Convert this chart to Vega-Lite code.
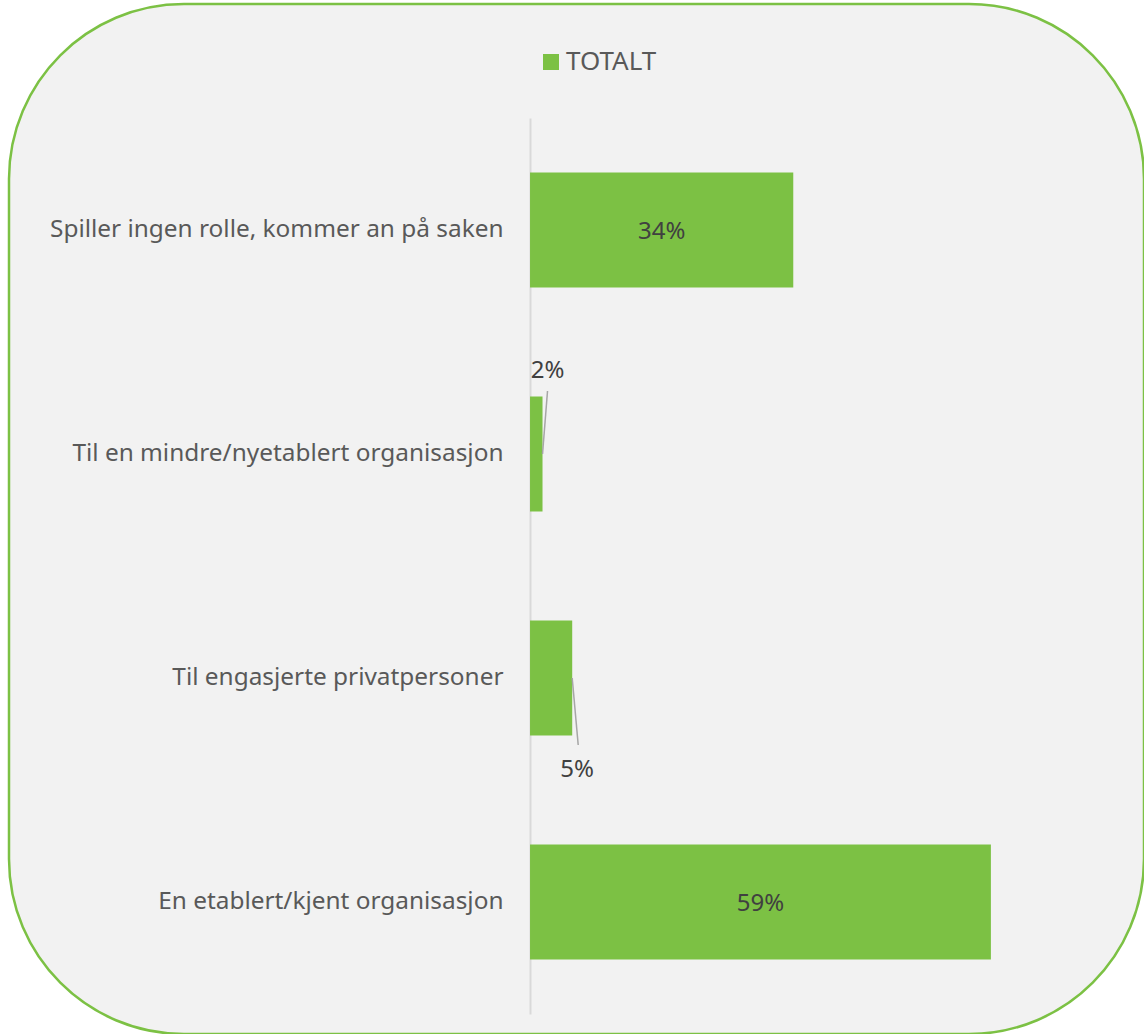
{
  "$schema": "https://vega.github.io/schema/vega-lite/v6.json",
  "autosize": {"type": "none"},
  "padding": {"left": 9, "top": 4, "right": 0, "bottom": 0},
  "width": 1135,
  "height": 1030,
  "background": "#ffffff",
  "config": {
    "view": {"fill": "#f2f2f2", "stroke": "#7cc144", "strokeWidth": 2.5, "cornerRadius": 175},
    "font": "Noto Sans"
  },
  "data": {
    "values": [
      {"category": "Spiller ingen rolle, kommer an på saken", "value": 0.337, "series": "TOTALT"},
      {"category": "Til en mindre/nyetablert organisasjon", "value": 0.016, "series": "TOTALT"},
      {"category": "Til engasjerte privatpersoner", "value": 0.054, "series": "TOTALT"},
      {"category": "En etablert/kjent organisasjon", "value": 0.59, "series": "TOTALT"}
    ]
  },
  "encoding": {
    "y": {
      "field": "category",
      "type": "nominal",
      "sort": null,
      "scale": {"range": [114, 1010], "paddingInner": 0.487, "paddingOuter": 0.2435},
      "axis": {
        "title": null,
        "offset": -521,
        "ticks": false,
        "domainColor": "#d9d9d9",
        "domainWidth": 2,
        "labelPadding": 27,
        "labelLimit": 0,
        "labelFontSize": 24.4,
        "labelColor": "#595959",
        "labelFont": "Noto Sans"
      }
    }
  },
  "layer": [
    {
      "mark": {"type": "bar"},
      "encoding": {
        "x": {"field": "value", "type": "quantitative", "scale": {"domain": [-0.667, 0.786], "nice": false, "zero": false}, "axis": null},
        "color": {
          "field": "series",
          "type": "nominal",
          "scale": {"range": ["#7cc144"]},
          "legend": {
            "title": null,
            "orient": "none",
            "legendX": 529,
            "legendY": 45,
            "symbolType": "square",
            "symbolSize": 256,
            "symbolStrokeWidth": 0,
            "labelFontSize": 26,
            "labelColor": "#595959",
            "labelFont": "Noto Sans",
            "labelOffset": 2
          }
        }
      }
    },
    {
      "transform": [
        {"filter": "datum.value > 0.2"},
        {"calculate": "datum.value / 2", "as": "mid"}
      ],
      "mark": {"type": "text", "fontSize": 24, "color": "#404040", "dy": 2},
      "encoding": {
        "x": {"field": "mid", "type": "quantitative"},
        "text": {"field": "value", "type": "quantitative", "format": ".0%"}
      }
    },
    {
      "transform": [{"filter": "datum.category == 'Til en mindre/nyetablert organisasjon'"}],
      "mark": {"type": "text", "fontSize": 24, "color": "#404040", "dx": 5, "dy": -83},
      "encoding": {
        "x": {"field": "value", "type": "quantitative"},
        "text": {"field": "value", "type": "quantitative", "format": ".0%"}
      }
    },
    {
      "transform": [{"filter": "datum.category == 'Til engasjerte privatpersoner'"}],
      "mark": {"type": "text", "fontSize": 24, "color": "#404040", "dx": 5, "dy": 92},
      "encoding": {
        "x": {"field": "value", "type": "quantitative"},
        "text": {"field": "value", "type": "quantitative", "format": ".0%"}
      }
    },
    {
      "transform": [{"filter": "datum.category == 'Til en mindre/nyetablert organisasjon'"}],
      "mark": {"type": "rule", "color": "#a6a6a6", "strokeWidth": 1.5, "xOffset": 5, "yOffset": -63, "x2Offset": 0, "y2Offset": 0},
      "encoding": {
        "x": {"field": "value", "type": "quantitative"},
        "x2": {"field": "value"},
        "y2": {"field": "category"}
      }
    },
    {
      "transform": [{"filter": "datum.category == 'Til engasjerte privatpersoner'"}],
      "mark": {"type": "rule", "color": "#a6a6a6", "strokeWidth": 1.5, "xOffset": 0, "yOffset": 0, "x2Offset": 6, "y2Offset": 67},
      "encoding": {
        "x": {"field": "value", "type": "quantitative"},
        "x2": {"field": "value"},
        "y2": {"field": "category"}
      }
    }
  ]
}
